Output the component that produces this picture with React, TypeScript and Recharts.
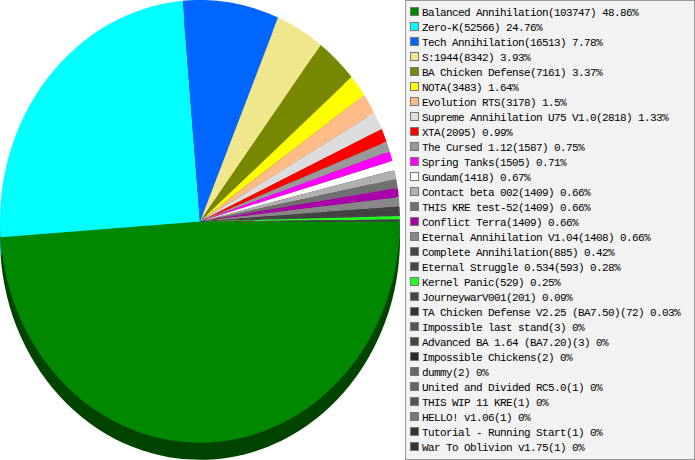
import { PieChart, Pie, Cell } from 'recharts';

const names = [
  'Balanced Annihilation',
  'Zero-K',
  'Tech Annihilation',
  'S:1944',
  'BA Chicken Defense',
  'NOTA',
  'Evolution RTS',
  'Supreme Annihilation U75 V1.0',
  'XTA',
  'The Cursed 1.12',
  'Spring Tanks',
  'Gundam',
  'Contact beta 002',
  'THIS KRE test-52',
  'Conflict Terra',
  'Eternal Annihilation V1.04',
  'Complete Annihilation',
  'Eternal Struggle 0.534',
  'Kernel Panic',
  'JourneywarV001',
  'TA Chicken Defense V2.25 (BA7.50)',
  'Impossible last stand',
  'Advanced BA 1.64 (BA7.20)',
  'Impossible Chickens',
  'dummy',
  'United and Divided RC5.0',
  'THIS WIP 11 KRE',
  'HELLO! v1.06',
  'Tutorial - Running Start',
  'War To Oblivion v1.75',
];

const values = [
  103747, 52566, 16513, 8342, 7161, 3483, 3178, 2818, 2095, 1587, 1505, 1418, 1409, 1409, 1409,
  1408, 885, 593, 529, 201, 72, 3, 3, 2, 2, 1, 1, 1, 1, 1,
];

const colors = [
  '#008800', '#00ffff', '#0066ff', '#f0e68c', '#778800', '#ffff00', '#ffbb88', '#dddddd', '#ff0000', '#999999',
  '#ff00ff', '#ffffff', '#b0b0b0', '#707070', '#aa00aa', '#888888', '#444444', '#444444', '#22ff22', '#444444',
  '#333333', '#555555', '#444444', '#2a2a2a', '#666666', '#666666', '#555555', '#777777', '#333333', '#333333',
];

const total = values.reduce((a, b) => a + b, 0);
const data = names.map((name, i) => ({ name, value: values[i] }));

// side view of the pie is just the same slices at half brightness
const darken = (hex: string) => {
  const n = parseInt(hex.slice(1), 16);
  const r = (n >> 16) >> 1;
  const g = ((n >> 8) & 255) >> 1;
  const b = (n & 255) >> 1;
  return `rgb(${r},${g},${b})`;
};

const percent = (v: number) => Math.round((v / total) * 10000) / 100;

const App = () => (
  <div style={{ position: 'absolute', left: 0, top: 0, width: 695, height: 460, background: '#fff', overflow: 'hidden' }}>
    {/* pie is an ellipse in the original, 400 wide and about 442 tall */}
    <div style={{ position: 'absolute', left: 0, top: 0, transform: 'scaleY(1.107)', transformOrigin: 'top left' }}>
      <PieChart width={401} height={420} margin={{ top: 0, right: 0, bottom: 0, left: 0 }}>
        <Pie
          data={data}
          dataKey="value"
          cx={200}
          cy={215.4}
          outerRadius={200}
          startAngle={0}
          endAngle={-360}
          stroke="none"
          isAnimationActive={false}
        >
          {data.map((_, i) => (
            <Cell key={`shadow-${i}`} fill={darken(colors[i])} />
          ))}
        </Pie>
        <Pie
          data={data}
          dataKey="value"
          cx={200}
          cy={200}
          outerRadius={200}
          startAngle={0}
          endAngle={-360}
          stroke="none"
          isAnimationActive={false}
        >
          {data.map((_, i) => (
            <Cell key={`cell-${i}`} fill={colors[i]} />
          ))}
        </Pie>
      </PieChart>
    </div>
    <div
      style={{
        position: 'absolute',
        left: 405,
        top: 0,
        width: 290,
        height: 460,
        boxSizing: 'border-box',
        background: '#f2f2f2',
        border: '1px solid #999',
        paddingTop: 4,
        fontFamily: '"Liberation Mono", monospace',
        fontSize: 11,
        letterSpacing: -0.6,
        color: '#000',
      }}
    >
      {data.map((d, i) => (
        <div key={d.name} style={{ height: 15, lineHeight: '17px', whiteSpace: 'pre', position: 'relative', paddingLeft: 16 }}>
          <span
            style={{
              position: 'absolute',
              left: 4,
              top: 2,
              width: 7,
              height: 7,
              background: colors[i],
              border: '1px solid #777',
            }}
          />
          {`${d.name}(${d.value}) ${percent(d.value)}%`}
        </div>
      ))}
    </div>
  </div>
);

export default App;
